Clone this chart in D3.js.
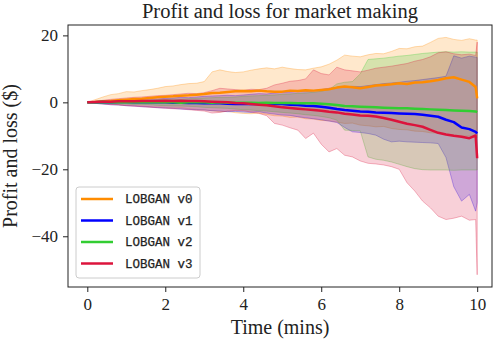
<!DOCTYPE html>
<html><head><meta charset="utf-8">
<script src="https://cdn.jsdelivr.net/npm/d3@7"></script>
<style>body{margin:0;background:#fff}</style>
</head><body>
<svg id="c" width="498" height="339"></svg>
<script>
// ---- data ----
const times = [0,0.2,0.4,0.6,0.8,1,1.2,1.4,1.6,1.8,2,2.2,2.4,2.6,2.8,3,3.2,3.4,3.6,3.8,4,4.2,4.4,4.6,4.8,5,5.2,5.4,5.6,5.8,6,6.2,6.4,6.6,6.8,7,7.2,7.4,7.6,7.8,8,8.2,8.4,8.6,8.8,9,9.2,9.4,9.6,9.8,9.96,10];

const seriesNames = ["LOBGAN v0","LOBGAN v1","LOBGAN v2","LOBGAN v3"];

const v0Mean = [0,0.1,0.3,0.4,0.6,0.8,1.0,1.1,1.3,1.5, 1.7,1.8,2.0,2.1,2.3,2.5,2.8,2.9,3.1,3.3, 3.4,3.3,3.5,3.3,3.2,3.2,3.5,3.4,3.6,3.5, 3.7,3.9,4.4,4.7,4.5,4.2,4.6,5.0,5.2,5.4, 5.7,5.5,5.9,6.0,6.3,6.7,7.2,7.5,6.8,6.1, 4.6,1.2];
const v0Up   = [0,0.8,1.6,2.3,2.6,3.2,3.1,3.5,3.8,4.2, 4.7,4.9,5.3,5.6,5.7,6.2,9.1,9.7,9.2,8.9, 9.1,9.6,10.0,10.3,10.0,10.5,10.1,9.8,9.7,10.2, 10.6,11.4,12.6,14.1,13.8,13.6,14.2,14.6,14.5,15.2, 16.1,16.0,16.6,16.8,17.9,19.1,19.4,18.8,18.5,19.0, 18.6,18.6];
const v0Lo   = [0,-0.2,-0.4,-0.5,-0.7,-0.9,-0.9,-1.1,-1.3,-1.4, -1.5,-1.7,-1.6,-1.9,-2.1,-2.3,-2.5,-2.8,-2.7,-3.1, -3.3,-3.4,-3.2,-3.6,-4.0,-4.1,-4.5,-4.4,-4.9,-5.0, -5.4,-5.5,-5.9,-6.3,-6.2,-6.8,-7.0,-7.3,-7.2,-7.8, -8.1,-8.2,-8.6,-8.7,-9.1,-9.2,-9.6,-9.8,-10.1,-10.0, -10.4,-10.6];

const v1Mean = [0,0,0.1,0,0.1,0.1,0,0,0.1,0, 0,-0.1,-0.1,-0.2,-0.2,-0.3,-0.3,-0.3,-0.4,-0.5, -0.5,-0.5,-0.5,-0.6,-0.5,-0.5,-0.7,-0.8,-1.0,-1.1, -1.3,-1.6,-2.0,-2.3,-2.5,-2.7,-2.8,-3.0,-3.1,-3.2, -3.3,-3.4,-3.5,-3.7,-4.0,-4.3,-5.2,-5.9,-7.5,-8.0, -8.8,-9.3];
const v1Up   = [0,0.2,0.4,0.5,0.6,0.8,0.9,1.0,1.1,1.0, 1.2,1.3,1.5,1.4,1.6,1.8,1.9,2.0,2.1,2.0, 2.2,2.4,2.6,2.5,2.8,3.0,3.1,3.3,3.2,3.5, 3.8,4.2,4.4,4.6,4.8,4.7,5.0,5.3,5.6,5.8, 6.0,6.3,6.5,6.8,7.1,7.4,7.8,13.9,13.2,13.8, 13.5,13.4];
const v1Lo   = [0,-0.3,-0.5,-0.7,-0.8,-1.0,-1.1,-1.3,-1.4,-1.6, -1.7,-1.8,-2.0,-2.1,-2.2,-2.3,-2.5,-2.6,-2.8,-2.7, -2.9,-3.0,-2.8,-3.2,-3.5,-3.8,-3.9,-4.3,-4.6,-4.9, -5.2,-5.6,-6.0,-7.5,-8.8,-9.0,-9.3,-9.8,-11.0,-11.8, -11.6,-11.8,-11.9,-12.0,-12.1,-12.3,-16.5,-25.2,-29.5,-27.5, -32.5,-30.0];

const v2Mean = [0,0,0.1,0,0.1,0,0,0.1,0,0, 0,0,-0.1,0,0,0,-0.1,0,-0.1,-0.1, -0.1,-0.1,-0.2,-0.1,-0.2,-0.2,-0.2,-0.3,-0.3,-0.3, -0.4,-0.6,-0.8,-1.1,-1.2,-1.3,-1.4,-1.5,-1.6,-1.7, -1.8,-1.8,-1.9,-2.0,-2.1,-2.2,-2.3,-2.4,-2.5,-2.6, -2.7,-2.9];
const v2Up   = [0,0.1,0.2,0.3,0.4,0.5,0.6,0.6,0.7,0.8, 0.9,1.0,1.0,1.1,1.2,1.3,1.4,1.5,1.5,1.6, 1.8,1.9,2.0,2.1,2.2,2.4,2.5,2.7,2.8,3.0, 3.3,3.8,5.5,6.0,6.2,8.5,12.8,13.0,13.2,13.5, 13.8,14.0,14.3,14.6,14.8,15.0,15.1,15.0,15.1,15.0, 15.0,15.0];
const v2Lo   = [0,-0.1,-0.2,-0.3,-0.4,-0.5,-0.6,-0.6,-0.7,-0.9, -1.0,-1.1,-1.1,-1.2,-1.3,-1.5,-1.6,-1.7,-1.8,-2.0, -2.2,-2.3,-2.5,-2.6,-2.8,-3.0,-3.2,-3.4,-3.7,-3.9, -4.2,-4.6,-5.3,-8.3,-8.4,-8.5,-16.3,-17.0,-17.3,-17.8, -18.5,-19.2,-19.8,-20.1,-20.2,-20.2,-20.2,-20.3,-20.2,-20.2, -20.2,-20.2];

const v3Mean = [0,0.1,0.2,0.2,0.3,0.3,0.3,0.4,0.4,0.4, 0.5,0.4,0.5,0.4,0.4,0.3,0.2,0.1,0,-0.2, -0.3,-0.5,-0.7,-0.9,-1.2,-1.5,-1.7,-1.9,-2.1,-2.3, -2.5,-2.8,-3.0,-3.4,-3.6,-3.9,-4.0,-4.2,-4.7,-5.2, -5.8,-6.4,-6.8,-7.3,-8.2,-9.1,-9.6,-10.0,-10.3,-10.7, -9.9,-16.7];
const v3Up   = [0,0.3,0.6,0.9,1.1,1.3,1.5,1.6,1.8,2.0, 2.1,2.3,2.5,2.7,2.6,2.9,3.5,4.2,4.0,3.8, 3.6,3.9,3.8,4.2,5.2,5.7,6.3,6.5,7.0,9.7, 8.6,8.2,10.5,9.7,9.4,9.1,9.6,10.2,10.5,10.8, 11.2,11.6,12.3,12.8,13.6,14.8,15.1,14.5,14.2,14.4, 14.0,18.0];
const v3Lo   = [0,-0.3,-0.5,-0.7,-0.8,-1.0,-1.2,-1.3,-1.5,-1.6, -1.8,-1.9,-2.0,-2.2,-2.4,-2.6,-3.2,-3.0,-2.6,-2.4, -2.5,-2.9,-3.3,-4.0,-6.3,-6.8,-7.6,-8.3,-10.8,-9.2, -12.5,-14.8,-13.8,-15.8,-16.3,-17.5,-18.2,-18.4,-18.7,-19.2, -20.0,-24.0,-26.5,-29.5,-31.5,-34.0,-35.0,-34.6,-34.0,-35.2, -35.0,-51.5];

const xTicks = [0,2,4,6,8,10];
const yTicks = [20,0,-20,-40];
const colors = ["#ff8c00","#0000ff","#32cd32","#dc143c"];

// ---- build ----
const series = [
  {name: seriesNames[0], mean: v0Mean, lo: v0Lo, up: v0Up, color: colors[0]},
  {name: seriesNames[1], mean: v1Mean, lo: v1Lo, up: v1Up, color: colors[1]},
  {name: seriesNames[2], mean: v2Mean, lo: v2Lo, up: v2Up, color: colors[2]},
  {name: seriesNames[3], mean: v3Mean, lo: v3Lo, up: v3Up, color: colors[3]}
];

const L = 68, R = 492, T = 25, B = 287;
const svg = d3.select("#c");
const x = d3.scaleLinear().domain([-0.495, 10.38]).range([L, R]);
const y = d3.scaleLinear().domain([-55.15, 23.1]).range([B, T]);

const serif = "'Liberation Serif','Times New Roman',serif";

const plot = svg.append("g");
const area = d3.area().x((d,i)=>x(times[i])).y0(d=>y(d[0])).y1(d=>y(d[1]));
const line = d3.line().x((d,i)=>x(times[i])).y(d=>y(d));

series.forEach(s => {
  const pts = s.lo.map((v,i)=>[v, s.up[i]]);
  plot.append("path").attr("d", area(pts))
    .attr("fill", s.color).attr("fill-opacity", 0.2)
    .attr("stroke", s.color).attr("stroke-opacity", 0.3).attr("stroke-width", 1);
});
series.forEach(s => {
  plot.append("path").attr("d", line(s.mean))
    .attr("fill", "none").attr("stroke", s.color).attr("stroke-width", 2.5)
    .attr("stroke-linejoin", "round");
});

// axes
const gx = svg.append("g").attr("transform", `translate(0,${B})`)
  .call(d3.axisBottom(x).tickValues(xTicks).tickSize(5).tickPadding(6).tickSizeOuter(0));
const gy = svg.append("g").attr("transform", `translate(${L},0)`)
  .call(d3.axisLeft(y).tickValues(yTicks).tickSize(5).tickPadding(5).tickSizeOuter(0)
        .tickFormat(d => d < 0 ? "\u2212" + Math.abs(d) : String(d)));
[gx, gy].forEach(g => {
  g.select(".domain").remove();
  g.selectAll("line").attr("stroke", "#222");
  g.selectAll("text").attr("font-family", serif).attr("font-size", 17).attr("fill", "#222");
});

// frame
svg.append("rect").attr("x", L).attr("y", T).attr("width", R-L).attr("height", B-T)
  .attr("fill", "none").attr("stroke", "#222").attr("stroke-width", 1);

// title and labels
svg.append("text").attr("x", (L+R)/2).attr("y", 18).attr("text-anchor", "middle")
  .attr("font-family", serif).attr("font-size", 20.5).attr("fill", "#222")
  .text("Profit and loss for market making");
svg.append("text").attr("x", (L+R)/2).attr("y", 334).attr("text-anchor", "middle")
  .attr("font-family", serif).attr("font-size", 20).attr("fill", "#222")
  .text("Time (mins)");
svg.append("text").attr("transform", `translate(17,${(T+B)/2}) rotate(-90)`)
  .attr("text-anchor", "middle")
  .attr("font-family", serif).attr("font-size", 20).attr("fill", "#222")
  .text("Profit and loss ($)");

// legend
const lg = svg.append("g");
lg.append("rect").attr("x", 76).attr("y", 187).attr("width", 124).attr("height", 91).attr("rx", 3)
  .attr("fill", "#fff").attr("fill-opacity", 0.8).attr("stroke", "#ccc").attr("stroke-width", 1);
series.forEach((s, i) => {
  const cy = 199 + i * 21.5;
  lg.append("line").attr("x1", 81).attr("x2", 113).attr("y1", cy).attr("y2", cy)
    .attr("stroke", s.color).attr("stroke-width", 2.5);
  lg.append("text").attr("x", 125).attr("y", cy).attr("dy", "0.35em")
    .attr("font-family", "'Liberation Mono','DejaVu Sans Mono',monospace").attr("font-size", 12.5)
    .attr("fill", "#222").attr("stroke", "#222").attr("stroke-width", 0.25).text(s.name);
});
</script>
</body></html>
